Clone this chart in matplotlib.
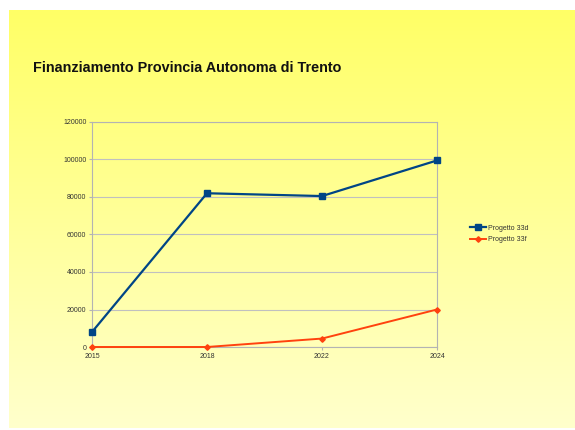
import matplotlib
matplotlib.use("Agg")
from matplotlib import pyplot as plt
import numpy as np

years = ["2015", "2018", "2022", "2024"]
progetto_33d = [8000, 82000, 80500, 99500]
progetto_33f = [0, 0, 4500, 20000]
y_ticks = [0, 20000, 40000, 60000, 80000, 100000, 120000]

plt.rcParams['font.family'] = ['Liberation Sans', 'DejaVu Sans']

W, H = 575, 430
fig = plt.figure(figsize=(W / 100, H / 100), dpi=100)
fig.patch.set_facecolor('white')

# yellow gradient panel
bg = fig.add_axes([9 / W, 2 / H, 1 - 9 / W, 1 - 12 / H])
top = np.array([255, 255, 102]) / 255
bottom = np.array([255, 255, 204]) / 255
t = np.linspace(0, 1, 256)[:, None]
grad = top * (1 - t) + bottom * t
bg.imshow(grad[:, None, :].repeat(2, axis=1), aspect='auto', extent=[0, 1, 0, 1])
bg.axis('off')

fig.text(33 / W, 1 - 68 / H, "Finanziamento Provincia Autonoma di Trento",
         fontsize=10.4, fontweight='bold', va='center', ha='left', color='#111111')

ax = fig.add_axes([92 / W, 1 - 347 / H, (437 - 92) / W, (347 - 122) / H])
ax.patch.set_alpha(0)
x = np.arange(len(years))
ax.plot(x, progetto_33d, color='#004586', lw=1.6, marker='s', ms=5, label='Progetto 33d', clip_on=False, zorder=3)
ax.plot(x, progetto_33f, color='#ff420e', lw=1.4, marker='D', ms=2.8, label='Progetto 33f', clip_on=False, zorder=3)

ax.set_xlim(0, 3)
ax.set_ylim(0, 120000)
ax.set_xticks(x)
ax.set_xticklabels(years)
ax.set_yticks(y_ticks)
ax.set_yticklabels([str(v) for v in y_ticks])
ax.tick_params(labelsize=5, length=2, color='#b3b3b3', labelcolor='#333333', pad=2)
ax.grid(axis='y', color='#c0c0c0', lw=0.8)
ax.set_axisbelow(True)
for s in ax.spines.values():
    s.set_color('#b3b3b3')
    s.set_linewidth(0.8)

leg = ax.legend(loc='center left', bbox_to_anchor=(464 / W, 1 - 234 / H), bbox_transform=fig.transFigure,
                frameon=False, fontsize=5, handlelength=2.2, handletextpad=0.4, labelspacing=0.6)
for txt in leg.get_texts():
    txt.set_color('#333333')

fig.savefig("out.png", dpi=100)
